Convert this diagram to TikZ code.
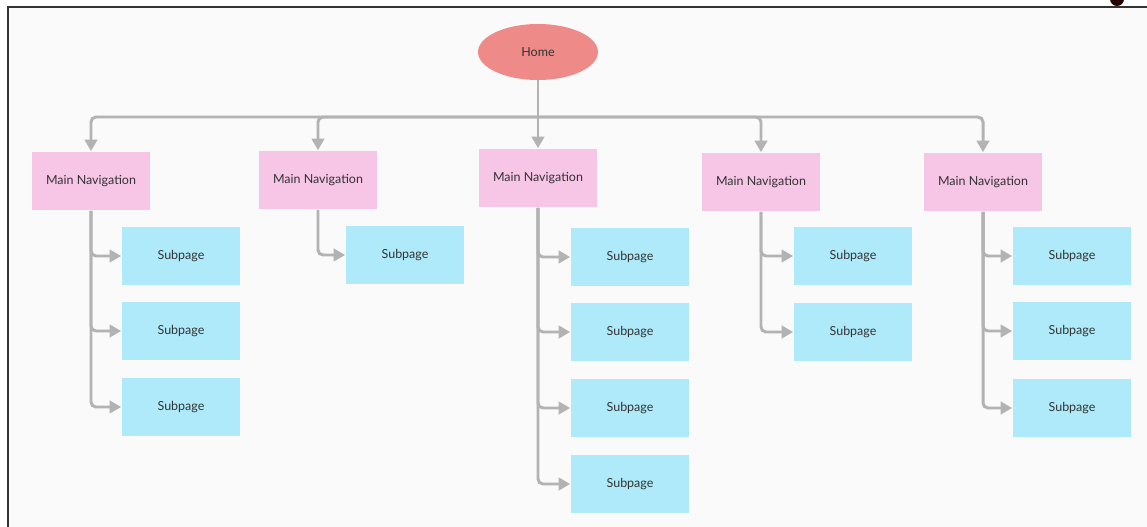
\documentclass[tikz,border=0pt]{standalone}
\usepackage{fontspec}
\setmainfont{Lato}
\usepackage{xcolor}
\usetikzlibrary{
	arrows.meta,
	positioning,
	shapes.geometric
}

\definecolor{homered}{HTML}{EE8B89}
\definecolor{navpink}{HTML}{F7C5E6}
\definecolor{subblue}{HTML}{AEEAF9}
\definecolor{linkgray}{HTML}{B3B3B3}
\definecolor{paper}{HTML}{FAFAFA}

\tikzset{
	home/.style={ellipse, fill=homered, minimum width=2.4cm, minimum height=1.12cm, inner sep=0pt},
	navbox/.style={rectangle, fill=navpink, minimum width=2.38cm, minimum height=1.18cm, inner sep=0pt},
	subbox/.style={rectangle, fill=subblue, minimum width=2.38cm, minimum height=1.18cm, inner sep=0pt},
	link/.style={draw=linkgray, line width=1.7pt, rounded corners=0.1cm},
	linkto/.style={link, -{Triangle[length=6.5pt,width=7pt]}}
}

\begin{document}
\begin{tikzpicture}[x=0.02cm, y=-0.02cm, font=\fontsize{7.1}{9}\selectfont, text=black!80]
		% page and frame
		\useasboundingbox (0,0) rectangle (1147,527);
		\fill[white] (0,0) rectangle (1147,527);
		\fill[paper] (8,7) rectangle (1147,527);
		\fill[black!85!red] (1117,-1) circle (7);
		\draw[black!80, line width=0.9pt] (8,527) -- (8,7) -- (1147,7);

		% home
		\node[home] (home) at (538,52) {Home};
		\coordinate (bus) at (538,117);

		% main navigation
		\node[navbox] (nav1) at (91,181) {Main Navigation};
		\node[navbox] (nav2) at (318,180) {Main Navigation};
		\node[navbox] (nav3) at (538,178) {Main Navigation};
		\node[navbox] (nav4) at (761,182) {Main Navigation};
		\node[navbox] (nav5) at (983,182) {Main Navigation};

		% subpages
		\node[subbox] (sub11) at (181,256) {Subpage};
		\node[subbox] (sub12) at (181,331) {Subpage};
		\node[subbox] (sub13) at (181,407) {Subpage};
		\node[subbox] (sub21) at (405,255) {Subpage};
		\node[subbox] (sub31) at (630,257) {Subpage};
		\node[subbox] (sub32) at (630,332) {Subpage};
		\node[subbox] (sub33) at (630,408) {Subpage};
		\node[subbox] (sub34) at (630,484) {Subpage};
		\node[subbox] (sub41) at (853,256) {Subpage};
		\node[subbox] (sub42) at (853,332) {Subpage};
		\node[subbox] (sub51) at (1072,256) {Subpage};
		\node[subbox] (sub52) at (1072,331) {Subpage};
		\node[subbox] (sub53) at (1072,408) {Subpage};

		% home to navigation
		\draw[link] (home.south) -- (bus);
		\draw[linkto] (bus) -| (nav1.north);
		\draw[linkto] (bus) -| (nav2.north);
		\draw[linkto] (bus) -- (nav3.north);
		\draw[linkto] (bus) -| (nav4.north);
		\draw[linkto] (bus) -| (nav5.north);

		% navigation to subpages
		\draw[linkto] (nav1.south) |- (sub11.west);
		\draw[linkto] (nav1.south) |- (sub12.west);
		\draw[linkto] (nav1.south) |- (sub13.west);
		\draw[linkto] (nav2.south) |- (sub21.west);
		\draw[linkto] (nav3.south) |- (sub31.west);
		\draw[linkto] (nav3.south) |- (sub32.west);
		\draw[linkto] (nav3.south) |- (sub33.west);
		\draw[linkto] (nav3.south) |- (sub34.west);
		\draw[linkto] (nav4.south) |- (sub41.west);
		\draw[linkto] (nav4.south) |- (sub42.west);
		\draw[linkto] (nav5.south) |- (sub51.west);
		\draw[linkto] (nav5.south) |- (sub52.west);
		\draw[linkto] (nav5.south) |- (sub53.west);
	\end{tikzpicture}
\end{document}
